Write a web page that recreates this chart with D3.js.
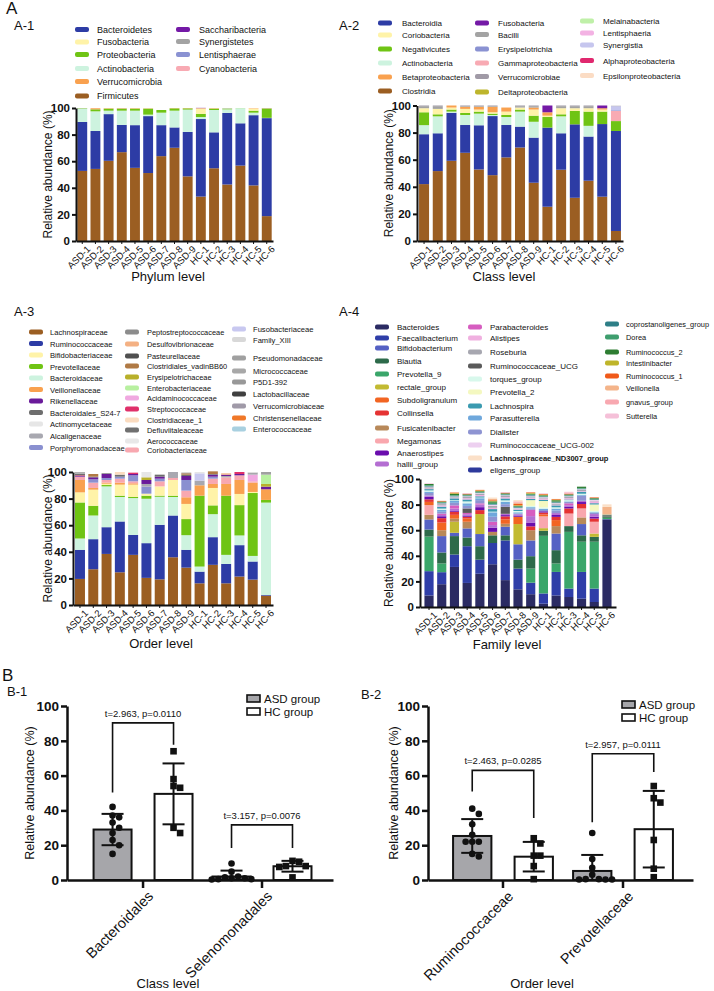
<!DOCTYPE html>
<html><head><meta charset="utf-8">
<script src="https://cdn.jsdelivr.net/npm/d3@7"></script>
<style>
body{margin:0;background:#fff}
svg{display:block}
text{font-family:"Liberation Sans",Arial,Helvetica,sans-serif;fill:#111}
</style>
</head><body><svg id="c" width="714" height="991"></svg>
<script>
// ---------------- DATA ----------------
const samples = ["ASD-1","ASD-2","ASD-3","ASD-4","ASD-5","ASD-6","ASD-7","ASD-8","ASD-9","HC-1","HC-2","HC-3","HC-4","HC-5","HC-6"];
const yTicks = [0,20,40,60,80,100];

// A-1 Phylum level
const phylumTaxa = ["Bacteroidetes","Fusobacteria","Proteobacteria","Actinobacteria","Verrucomicrobia","Firmicutes","Saccharibacteria","Synergistetes","Lentisphaerae","Cyanobacteria"];
const phylumColors = ["#2d3ca5","#fff3a8","#6fc414","#cdf3df","#f9a14f","#9b5e22","#7419a6","#a3a3a3","#8a92d2","#f8aab3"];
const phylumOrder = ["Firmicutes","Bacteroidetes","Actinobacteria","Proteobacteria","Fusobacteria","Verrucomicrobia","Saccharibacteria","Synergistetes","Lentisphaerae","Cyanobacteria"];
const phylumValues = [
 [36.8,28.5,35.1,20.5,32.1,42.8,23.3,15.3,33.4,58.3,27.0,53.8,31.8,52.8,73.7],
 [0,0,0,0,0,0,0,0,0,4.0,0,0,0,1.5,0],
 [0.3,1.5,1.5,1.5,1.5,4.5,2.0,1.7,0.9,2.4,1.0,0.5,0.1,1.5,7.0],
 [10.0,14.8,2.6,10.7,10.9,1.1,9.4,12.6,16.8,1.5,16.8,2.7,11.3,1.9,0.2],
 [0,0.8,0.3,0.3,0.3,0.2,0,0.2,0.2,0.3,0.3,0,0,0.3,0.2],
 [52.7,54.2,60.3,66.8,55.0,51.1,63.8,70.1,48.6,33.4,54.7,42.5,56.7,41.8,18.7],
 [0,0,0,0,0,0,0,0,0,0.2,0,0,0,0,0],
 [0.1,0,0,0.1,0,0,0,0,0,0,0,0.2,0,0,0],
 [0,0,0,0,0,0,0,0,0,0,0,0,0,0,0.1],
 [0,0,0,0,0,0,0,0,0,0,0,0,0,0,0]
];

// A-2 Class level
const classTaxa = ["Bacteroidia","Coriobacteria","Negativicutes","Actinobacteria","Betaproteobacteria","Clostridia","Fusobacteria","Bacilli","Erysipelotrichia","Gammaproteobacteria","Verrucomicrobiae","Deltaproteobacteria","Melainabacteria","Lentisphaeria","Synergistia","Alphaproteobacteria","Epsilonproteobacteria"];
const classColors = ["#2d3ca5","#fff3a8","#6fc414","#cdf3df","#f9a14f","#9b5e22","#7419a6","#a3a3a3","#8a92d2","#f8aab3","#a09aa6","#bdb52c","#bff0a8","#f3b2e3","#c6c6ee","#e0286e","#fbdcc4"];
const classOrder = ["Clostridia","Bacteroidia","Actinobacteria","Negativicutes","Coriobacteria","Betaproteobacteria","Gammaproteobacteria","Erysipelotrichia","Synergistia","Fusobacteria","Bacilli","Verrucomicrobiae","Deltaproteobacteria","Melainabacteria","Lentisphaeria","Alphaproteobacteria","Epsilonproteobacteria"];
const classValues = [
 [36.8,27.9,35.4,20.5,32.6,43.6,23.9,15.4,33.3,58.4,26.9,54.2,32.6,53.6,73.8],
 [3.0,4.0,1.5,3.0,1.5,1.0,2.5,1.5,4.5,1.0,4.5,2.0,2.5,1.5,0],
 [9.5,1.5,1.5,1.5,1.5,1.0,1.5,1.5,4.5,7.8,1.5,9.9,10.5,9.2,7.3],
 [6.7,12.5,0.9,7.4,8.6,0.8,5.9,11.1,11.7,0,12.5,0,7.9,0,0],
 [0,0,1.5,1.5,2.0,4.0,3.0,0,1.5,2.5,0,0,0,1.0,0],
 [42.0,51.6,59.2,65.1,52.8,48.6,61.7,69.0,43.0,25.3,52.6,31.9,44.5,32.7,7.4],
 [0,0,0,0,0,0,0,0,0,5.0,0,0,0,2.0,0],
 [1.5,2.0,0,0.5,0.5,0.5,0,1.0,1.0,0,1.5,1.5,1.5,0,0],
 [0,0,0,0,0,0,0,0,0,0,0,0,0,0,0.5],
 [0,0,0,0,0,0,0,0,0,0,0,0,0,0,7.5],
 [0.5,0.5,0,0.5,0.5,0.5,0,0.5,0.5,0,0.5,0.5,0.5,0,0.3],
 [0,0,0,0,0,0,0,0,0,0,0,0,0,0,0],
 [0,0,0,0,0,0,0,0,0,0,0,0,0,0,0],
 [0,0,0,0,0,0,0,0,0,0,0,0,0,0,0],
 [0,0,0,0,0,0,0,0,0,0,0,0,0,0,3.0],
 [0,0,0,0,0,0,0,0,0,0,0,0,0,0,0],
 [0,0,0,0,0,0,0,0,0,0,0,0,0,0,0]
];

// A-3 Order level
const orderTaxa = ["Lachnospiraceae","Ruminococcaceae","Bifidobacteriaceae","Prevotellaceae","Bacteroidaceae","Veillonellaceae","Rikenellaceae","Bacteroidales_S24-7","Actinomycetaceae","Alcaligenaceae","Porphyromonadaceae",
 "Peptostreptococcaceae","Desulfovibrionaceae","Pasteurellaceae","Clostridiales_vadinBB60","Erysipelotrichaceae","Enterobacteriaceae","Acidaminococcaceae","Streptococcaceae","Clostridiaceae_1","Defluviitaleaceae","Aerococcaceae","Coriobacteriaceae",
 "Fusobacteriaceae","Family_XIII","Pseudomonadaceae","Micrococcaceae","P5D1-392","Lactobacillaceae","Verrucomicrobiaceae","Christensenellaceae","Enterococcaceae"];
const orderColors = ["#9b5e22","#2d3ca5","#fff3a8","#6fc414","#cdf3df","#f9a14f","#6a1b9a","#6e6e6e","#e6e6e6","#a8a8b0","#8a90d0",
 "#8c8c8c","#f4b183","#505050","#b07a45","#b8b02a","#b8f0a0","#f0a8e0","#e0306a","#fbdcc0","#707070","#e8e8e8","#f8a8b0",
 "#c8c8f0","#d8d8d8","#a0a0a0","#a8a8a8","#989898","#404040","#a09aa8","#f07828","#a8d0e0"];
const orderOrder = ["Lachnospiraceae","Ruminococcaceae","Bacteroidaceae","Prevotellaceae","Bifidobacteriaceae","Veillonellaceae","Coriobacteriaceae","Acidaminococcaceae","Porphyromonadaceae","Alcaligenaceae","Fusobacteriaceae","Rikenellaceae","Erysipelotrichaceae","Enterobacteriaceae","Streptococcaceae","Bacteroidales_S24-7","Actinomycetaceae","Clostridiales_vadinBB60","Clostridiaceae_1","Peptostreptococcaceae","Desulfovibrionaceae","Pasteurellaceae","Defluviitaleaceae","Aerococcaceae","Family_XIII","Pseudomonadaceae","Micrococcaceae","P5D1-392","Lactobacillaceae","Verrucomicrobiaceae","Christensenellaceae","Enterococcaceae"];
const orderValues = [
 [19.6,26.9,38.4,24.6,37.7,20.4,19.3,35.9,28.1,16.3,30.2,16.3,21.4,19.1,7.0],
 [21.9,22.6,20.1,38.2,15.0,26.1,41.0,31.4,13.4,8.8,20.8,14.6,23.6,13.6,0.5],
 [7.6,12.1,1.0,8.3,9.3,1.5,7.0,11.8,11.4,0,13.1,0,8.4,0.8,0],
 [27.1,7.3,1.0,1.0,0.8,2.3,0.8,1.0,12.1,53.3,6.6,44.5,22.8,47.3,2.0],
 [8.5,17.8,30.7,18.4,27.7,33.4,21.1,13.9,11.0,3.8,17.3,6.8,7.3,4.2,69.5],
 [9.3,1.3,0.8,1.5,1.0,0,0,0,5.0,7.8,3.0,8.8,10.5,7.0,8.0],
 [0.5,1.5,3.0,0,1.0,3.0,1.5,0,3.0,0,1.5,1.0,1.0,0,2.0],
 [1.5,0.5,0.5,1.5,0,0,1.5,0,1.0,0,0.5,0,0,0.5,0],
 [0.5,0,0,0,0,4.0,0,0,0,1.0,0,0,0,0.5,0],
 [0,0,0,0,0,2.0,0,4.5,0,3.5,0,1.0,0,1.0,0],
 [0,2.5,1.5,1.5,4.5,5.3,2.0,0,8.0,0,1.5,0,0,0,0],
 [0.5,0,0,0,0,0,0,0,0.5,0,0,0,0,0,0],
 [0,0,0,0,0,0,0,0,0,0,0,1.0,0,0,0],
 [0,0,0,0,0,0,0,0,0,0,0,0,0,0,0],
 [0,2.0,0,0,0,0,0,0,1.0,0,2.0,0,0,0,0],
 [0,0,0,0,0,2.0,0,0,0,0,0,0,0,0,2.0],
 [0,0,0,0,0,0,0,0,0,0,0,0,0,0,7.0],
 [0,0,0,0,0,0,0,0,0,0,0,0,0,5.0,0],
 [0.5,0,0,0,1.0,0,0,0,0,0,0,0,1.5,0,0],
 [0,0,0,2.0,0,0,0,0,0,0,0,0,0,0,0],
 [0,0,0,0,0,0,0,0,0,0,0,0,0,0,0],
 [0,0,0,0,0,0,0,0,0,0,0,0,0,0,0],
 [2.5,4.0,2.0,3.0,1.5,0,3.8,1.5,5.0,0,4.0,5.0,3.5,1.0,0],
 [0,0,0,0,0,0,0,0,0,5.5,0,0,0,0,0],
 [0,0,0,0,0,0,0,0,0,0,0,0,0,0,0],
 [0,0,0,0,0,0,0,0,0,0,0,0,0,0,2.0],
 [0,0,0,0,0,0,0,0,0,0,0,0,0,0,0],
 [0,0,0,0,0,0,0,0,0,0,0,0,0,0,0],
 [0,0,0,0,0,0,0,0,0,0,0,0,0,0,0],
 [0,0,0,0,0,0,0,0,0,0,0,0,0,0,0],
 [0,0,0,0,0,0,0,0,0,0,0,0,0,0,0],
 [0,0,0,0,0,0,0,0,0,0,0,0,0,0,0]
];

// A-4 Family level
const familyTaxa = ["Bacteroides","Faecalibacterium","Bifidobacterium","Blautia","Prevotella_9","rectale_group","Subdoligranulum","Collinsella","Fusicatenibacter","Megamonas","Anaerostipes","hallii_group",
 "Parabacteroides","Alistipes","Roseburia","Ruminococcaceae_UCG","torques_group","Prevotella_2","Lachnospira","Parasutterella","Dialister","Ruminococcaceae_UCG-002","Lachnospiraceae_ND3007_group","eligens_group",
 "coprostanoligenes_group","Dorea","Ruminococcus_2","Intestinibacter","Ruminococcus_1","Veillonella","gnavus_group","Sutterella"];
const familyColors = ["#2b2b63","#2f3ea8","#5561c4","#2d6a4a","#3aa66a","#c2ba32","#f26522","#e53333","#b8895a","#f9a7ae","#6a0dad","#b46ed2",
 "#d65dc0","#f0b0e0","#a7a7b0","#5a5a5a","#d8f8ec","#f4f8c0","#3a9ab0","#6fa8dc","#8e94d2","#edd0f0","#fbe0c8","#2e3a9c",
 "#2e7f87","#3e9e6e","#2e7d32","#bfb52a","#f05a1a","#f4b48a","#f8a8b0","#f5c0d8"];
const familyOrder = ["Bacteroides","Faecalibacterium","Prevotella_9","Blautia","Bifidobacterium","rectale_group","Fusicatenibacter","Megamonas","Subdoligranulum","Collinsella","Anaerostipes","hallii_group","Parabacteroides","Ruminococcaceae_UCG","Dialister","Parasutterella","torques_group","Prevotella_2","Lachnospira","Alistipes","Roseburia","Ruminococcaceae_UCG-002","coprostanoligenes_group","Dorea","Ruminococcus_2","Intestinibacter","Ruminococcus_1","Veillonella","gnavus_group","Sutterella","eligens_group","Lachnospiraceae_ND3007_group"];
const familyValues = [
 [9,17.8,31.3,18.8,26,33.4,21,13.8,10,2.6,9,7.8,6.5,3.9,68.4],
 [19,9.4,9.7,28.7,11,16.6,31,16.2,9,8,18.4,6.6,20.9,10.5,0.3],
 [7.9,12.8,2.6,7.1,9.5,0,6.7,12,12.3,0,13,0,8.8,0,0],
 [5.5,8.6,14.4,6.8,10.5,6,4,7,9.7,4,10.4,4.5,5,3.8,1.0],
 [27,6.8,0,0,0,0,0,0,11,45,6.6,44.3,23.6,36.6,1.0],
 [0,0,8.6,0,15.6,0,0,15.8,0,2.0,0,0,0,2.6,0],
 [2.5,6,3,2.5,0,0,3.5,5.7,0,1.5,4.7,0,0,0,0],
 [2,3.4,2.4,1.4,3.1,0,2.3,0,3,1.5,2.5,4.0,3.5,2.5,0],
 [3.6,4.6,2.4,5.2,0,2.7,2.3,0,8,0,5.8,0,5.2,0,0],
 [7.6,0,0,0,0,0,0,0,0,9.2,0,9.8,7,9.2,0],
 [2,1.5,1.0,1.0,2.3,3.3,1.0,1.0,3,1.0,1.5,1.5,1.5,1.5,0],
 [1.0,1.0,1.5,1.0,2.0,2.0,1.0,1.0,5,0,1.5,1,1,2,0],
 [0,1.0,2.5,1.0,1.0,2.6,0,0,5,0,0,1.5,0,0,0],
 [0.5,1.0,0.5,1.0,1.0,1.0,1.0,0.5,1.0,1.0,0.5,1.0,0.5,1.5,0],
 [1.0,1.0,0.5,1.0,1.0,1.5,1.0,0.5,1.0,0.5,1.0,1.0,1.0,0.5,0],
 [0,0,0,3.5,0,0,5.5,0,0,0,0,0,0,0,1.0],
 [1.0,1.0,0.5,1.5,0.5,0.5,1.0,1.0,1.0,1.0,1.0,1.0,1.0,1.0,0],
 [0,0,0,0,0,0,0,0,4.5,5.0,0,0,0,5.0,0],
 [1.0,1.5,1.5,1.5,1.0,2.0,1.5,1.0,1.0,1.0,1.5,0.5,1.5,1.0,0],
 [1.0,1.5,1.5,2.0,1.5,3.5,2.0,1.0,1.0,1.0,1.5,0.5,0.5,0.5,0],
 [2.0,1.5,2.0,2.0,2.5,3.9,2.0,0.5,1.0,1.0,2.0,1.0,4.0,1.0,0],
 [0.5,0.5,0.5,0.5,0.5,1.0,0.5,0.5,0.5,0.5,0.5,0.5,0.5,0.5,0],
 [0,0,0,0,0,1.0,0,1.0,0,0,0,0,0,0,2.0],
 [0,0,0,0,0,0,0,0,0,0,0,0,0,0,0],
 [0.5,0.5,0.5,0.5,0.5,0.5,0.5,0.5,0.5,0.5,0.5,0.5,0.5,0.5,0],
 [0.5,0.5,0.5,0.5,0.5,1.0,0.5,0.5,0.5,0.5,0.5,0.5,0.5,0.5,0.5],
 [1.0,0.5,1.0,0.5,0.5,1.0,0.5,0.5,0.5,0.5,1.0,0.5,1.0,0.5,0],
 [0,0,0.5,0,0.5,0.5,0,0.5,0.5,0.5,0.5,0,0,0,0],
 [0,0.5,0.5,0.5,0.5,0.5,0.5,1.0,0.5,0.5,0.5,0.5,0,0.5,0],
 [0,0,0,0,0,1.0,0,1.0,0,0,0,0,0,0,6.0],
 [0,0,0,0,0,0,0,1.0,0,0,0,1.0,0,0,0],
 [0.5,0,0,0.5,0,0,0.5,0,0,0.5,0,0.5,0,0,0]
];

// B panels
const groups = ["ASD group","HC group"];
const b1Categories = ["Bacteroidales","Selenomonadales"];
const b1AsdPoints = [[42,37,36,33,30,27,23,20,15],[9.5,4.8,2,1.5,1,1,0.5,0.5,0.3]];
const b1HcPoints = [[74,58,54,53,30,27],[11,10.5,8,8,7.5,1.5]];
const b1Means = [[29,2.0],[49.5,7.9]];
const b1SDs = [[9,3.4],[17.5,3.1]];
const b1Stats = ["t=2.963, p=0.0110","t=3.157, p=0.0076"];
const b1BracketTop = [90.3,31.7];
const b1BracketLeft = [50.3,18.4];
const b1BracketRight = [77.8,18.4];

const b2Categories = ["Ruminococcaceae","Prevotellaceae"];
const b2AsdPoints = [[41,38,32,26,22,22,22,15,13.5],[27,12,7,3,0.5,0.5,0.3,0.3,0.3]];
const b2HcPoints = [[24,21,14,14,8,0.5],[54,47,44.5,23,6.5,1.6]];
const b2Means = [[25.3,5.2],[13.4,29.2]];
const b2SDs = [[9.7,9.2],[8.5,22]];
const b2Stats = ["t=2.463, p=0.0285","t=2.957, p=0.0111"];
const b2BracketTop = [63,72.6];
const b2BracketLeft = [50.9,33.2];
const b2BracketRight = [35.7,62];

// ---------------- DRAWING ----------------
const svg = d3.select("#c");

function txt(x,y,s,size){
  return svg.append("text").attr("x",x).attr("y",y).attr("font-size",size).text(s);
}

// panel letters
txt(6,14,"A",17);
txt(14,30,"A-1",13);
txt(339,30,"A-2",13);
txt(14,316,"A-3",13);
txt(339,316,"A-4",13);
txt(2,681,"B",17);
txt(7,696,"B-1",13);
txt(361,699,"B-2",13);

function stackPanel(o){
  const g = svg.append("g");
  const x = d3.scaleBand().domain(samples).range(o.xr).paddingInner(o.pi).paddingOuter(o.po);
  const y = d3.scaleLinear().domain([0,100]).range([o.y0,o.y100]);
  const rows = samples.map((s,i)=>{const r={sample:s}; o.taxa.forEach((t,k)=>r[t]=o.values[k][i]); return r;});
  const series = d3.stack().keys(o.order)(rows);
  g.selectAll("g.layer").data(series).join("g")
    .attr("fill", d=>o.colors[o.taxa.indexOf(d.key)])
    .selectAll("rect").data(d=>d.filter(p=>p[1]-p[0]>0)).join("rect")
    .attr("x",d=>x(d.data.sample)).attr("width",x.bandwidth())
    .attr("y",d=>y(d[1])).attr("height",d=>y(d[0])-y(d[1]));
  // y axis
  const ya = g.append("g").attr("transform",`translate(${o.xr[0]},0)`)
    .call(d3.axisLeft(y).tickValues(yTicks).tickSize(4).tickSizeOuter(0).tickPadding(2));
  ya.select(".domain").attr("stroke","#111").attr("stroke-width",2);
  ya.selectAll(".tick line").attr("stroke","#111").attr("stroke-width",2);
  ya.selectAll(".tick text").attr("font-size",11.5).attr("font-weight","bold").attr("fill","#111")
    .attr("font-family","Liberation Sans, Arial, sans-serif");
  // x axis
  const xa = g.append("g").attr("transform",`translate(0,${o.y0})`)
    .call(d3.axisBottom(x).tickSize(3).tickSizeOuter(0).tickFormat(""));
  xa.select(".domain").attr("stroke","#111").attr("stroke-width",2);
  xa.selectAll(".tick line").attr("stroke","#111").attr("stroke-width",1);
  g.selectAll("text.xl").data(samples).join("text").attr("class","xl")
    .attr("transform",s=>`translate(${x(s)+x.bandwidth()/2+4},${o.y0+4}) rotate(-45)`)
    .attr("text-anchor","end").attr("dy","0.7em").attr("font-size",9.5).text(s=>s);
  // titles
  g.append("text").attr("transform",`translate(${o.ylx},${(o.y0+o.y100)/2}) rotate(-90)`)
    .attr("text-anchor","middle").attr("font-size",12).text("Relative abundance (%)");
  g.append("text").attr("x",o.title[1]).attr("y",o.title[2]).attr("text-anchor","middle")
    .attr("font-size",13).text(o.title[0]);
  // legend
  o.legend.forEach(col=>{
    col.items.forEach((name,i)=>{
      const k = o.taxa.indexOf(name);
      const yy = col.ys[i];
      g.append("rect").attr("x",col.sx).attr("y",yy-2.5).attr("width",14).attr("height",5)
        .attr("rx",2).attr("fill",o.colors[k]);
      const t = g.append("text").attr("x",col.tx).attr("y",yy+3).attr("font-size",col.fs||o.lfs).text(name);
      if(name==="Lachnospiraceae_ND3007_group") t.attr("font-weight","bold").attr("font-size",7.5);
    });
  });
}

stackPanel({taxa:phylumTaxa,colors:phylumColors,order:phylumOrder,values:phylumValues,
  xr:[76,273],pi:0.25,po:0.1,y0:241,y100:108,ylx:52,title:["Phylum level",168,281],lfs:9,
  legend:[{sx:75,tx:97,ys:[29.5,42,54.5,68.5,81.5,96],items:phylumTaxa.slice(0,6)},
          {sx:176,tx:199,ys:[29.5,41.5,54.5,68.5],items:phylumTaxa.slice(6)}]});

stackPanel({taxa:classTaxa,colors:classColors,order:classOrder,values:classValues,
  xr:[417,623],pi:0.27,po:0.15,y0:241,y100:105.5,ylx:393,title:["Class level",504,281],lfs:8,
  legend:[{sx:378,tx:402,ys:[23,35,49,63,77,91],items:classTaxa.slice(0,6)},
          {sx:475,tx:498,ys:[23,34.5,49,63,76.5,92],items:classTaxa.slice(6,12)},
          {sx:580,tx:603,ys:[21,33,45,60.5,75.5],items:classTaxa.slice(12)}]});

stackPanel({taxa:orderTaxa,colors:orderColors,order:orderOrder,values:orderValues,
  xr:[73,273],pi:0.25,po:0.15,y0:605,y100:472,ylx:52,title:["Order level",161,648],lfs:7.6,
  legend:[{sx:29,tx:50,ys:[332,343.5,355,366.5,378,389.5,401,412.5,424,436,447.5],items:orderTaxa.slice(0,11)},
          {sx:125,tx:147,ys:[332,344,356,366,377,388,398,409,420,430,441,450],items:orderTaxa.slice(11,23),fs:7.4},
          {sx:232,tx:253,ys:[329,339.5,358,371,382,394,406,418,429],items:orderTaxa.slice(23)}]});

stackPanel({taxa:familyTaxa,colors:familyColors,order:familyOrder,values:familyValues,
  xr:[420,616],pi:0.28,po:0.35,y0:607,y100:479,ylx:393,title:["Family level",507,649],lfs:8,
  legend:[{sx:375,tx:397,ys:[327,338,348,361,374,387,400,413,428,441,453,464],items:familyTaxa.slice(0,12)},
          {sx:468,tx:490,ys:[327,338,352,366,379,392,406,418,432,445,458,470],items:familyTaxa.slice(12,24)},
          {sx:605,tx:626,ys:[324,337,352,363,376,388,402,416],items:familyTaxa.slice(24),fs:7.4}]});

function dotPanel(o){
  const g = svg.append("g");
  const y = d3.scaleLinear().domain([0,100]).range([o.y0,o.y100]);
  const x = d3.scaleBand().domain(o.cats).range(o.xr).paddingInner(0).paddingOuter(o.po).align(o.align);
  const gx = d3.scaleBand().domain(groups).range([0,x.step()]).paddingInner(0.377).paddingOuter(0.164);
  const fills = ["#a6a6aa","#ffffff"];
  const pts = [o.asd,o.hc];
  const r = 3.3;
  const centers = o.cats.map(c=>groups.map(gn=>x(c)+gx(gn)+gx.bandwidth()/2));
  o.cats.forEach((c,ci)=>{
    groups.forEach((gn,gi)=>{
      const m = o.means[gi][ci];
      g.append("rect").attr("x",x(c)+gx(gn)).attr("width",gx.bandwidth())
        .attr("y",y(m)).attr("height",y(0)-y(m))
        .attr("fill",fills[gi]).attr("stroke","#111").attr("stroke-width",2);
    });
  });
  const ya = g.append("g").attr("transform",`translate(${o.xr[0]},0)`)
    .call(d3.axisLeft(y).tickValues(yTicks).tickSize(6).tickSizeOuter(0).tickPadding(2));
  ya.select(".domain").attr("stroke","#111").attr("stroke-width",2.5);
  ya.selectAll(".tick line").attr("stroke","#111").attr("stroke-width",2.5);
  ya.selectAll(".tick text").attr("font-size",13.5).attr("font-weight","bold").attr("fill","#111")
    .attr("font-family","Liberation Sans, Arial, sans-serif");
  const xa = g.append("g").attr("transform",`translate(0,${o.y0})`)
    .call(d3.axisBottom(x).tickSize(8).tickSizeOuter(0).tickFormat(""));
  xa.select(".domain").attr("stroke","#111").attr("stroke-width",2.5);
  xa.selectAll(".tick line").attr("stroke","#111").attr("stroke-width",2.5);
  o.cats.forEach((c,ci)=>{
    groups.forEach((gn,gi)=>{
      const cx = centers[ci][gi];
      const m = o.means[gi][ci], sd = o.sds[gi][ci];
      const placed = [];
      pts[gi][ci].slice().sort((a,b)=>b-a).forEach(v=>{
        const py = y(v); let px = cx;
        for(const k of [0,1,-1,2,-2,3,-3]){
          px = cx + k*2*r;
          if(placed.every(p=>Math.hypot(p[0]-px,p[1]-py)>=2*r-0.2)) break;
        }
        placed.push([px,py]);
      });
      placed.forEach(p=>{
        if(gi===0) g.append("circle").attr("cx",p[0]).attr("cy",p[1]).attr("r",r).attr("fill","#111");
        else g.append("rect").attr("x",p[0]-r).attr("y",p[1]-r).attr("width",2*r).attr("height",2*r).attr("fill","#111");
      });
      const lo = Math.max(0,m-sd), hi = m+sd;
      g.append("line").attr("x1",cx).attr("x2",cx).attr("y1",y(lo)).attr("y2",y(hi)).attr("stroke","#111").attr("stroke-width",2);
      g.append("line").attr("x1",cx-11).attr("x2",cx+11).attr("y1",y(hi)).attr("y2",y(hi)).attr("stroke","#111").attr("stroke-width",2);
      if(m-sd>0) g.append("line").attr("x1",cx-11).attr("x2",cx+11).attr("y1",y(lo)).attr("y2",y(lo)).attr("stroke","#111").attr("stroke-width",2);
    });
    const xl = centers[ci][0], xr = centers[ci][1];
    g.append("path").attr("d",`M${xl},${y(o.brL[ci])}V${y(o.brTop[ci])}H${xr}V${y(o.brR[ci])}`)
      .attr("fill","none").attr("stroke","#111").attr("stroke-width",1.6);
    g.append("text").attr("x",(xl+xr)/2).attr("y",y(o.brTop[ci])-6).attr("text-anchor","middle")
      .attr("font-size",9.5).text(o.stats[ci]);
    g.append("text").attr("transform",`translate(${x(c)+x.bandwidth()/2+4},${o.y0+10}) rotate(-45)`)
      .attr("text-anchor","end").attr("dy","0.7em").attr("font-size",14.5).text(c);
  });
  g.append("text").attr("transform",`translate(${o.ylx},${(o.y0+o.y100)/2}) rotate(-90)`)
    .attr("text-anchor","middle").attr("font-size",12.5).text("Relative abundance (%)");
  g.append("text").attr("x",o.title[1]).attr("y",o.title[2]).attr("text-anchor","middle")
    .attr("font-size",13).text(o.title[0]);
  groups.forEach((gn,gi)=>{
    const ly = o.leg[1] + gi*13;
    g.append("rect").attr("x",o.leg[0]).attr("y",ly-6).attr("width",13).attr("height",7)
      .attr("fill",fills[gi]).attr("stroke","#111").attr("stroke-width",1.6);
    g.append("text").attr("x",o.leg[0]+17).attr("y",ly+1.5).attr("font-size",11.5).text(gn);
  });
}

dotPanel({cats:b1Categories,asd:b1AsdPoints,hc:b1HcPoints,means:b1Means,sds:b1SDs,stats:b1Stats,
  brTop:b1BracketTop,brL:b1BracketLeft,brR:b1BracketRight,
  xr:[67,333],po:0.118,align:0.59,y0:880,y100:706,ylx:34,title:["Class level",168,988],leg:[247,701]});

dotPanel({cats:b2Categories,asd:b2AsdPoints,hc:b2HcPoints,means:b2Means,sds:b2SDs,stats:b2Stats,
  brTop:b2BracketTop,brL:b2BracketLeft,brR:b2BracketRight,
  xr:[428,693],po:0.104,align:0.6,y0:880,y100:706,ylx:398,title:["Order level",542,988],leg:[622,707]});
</script>
</body></html>
